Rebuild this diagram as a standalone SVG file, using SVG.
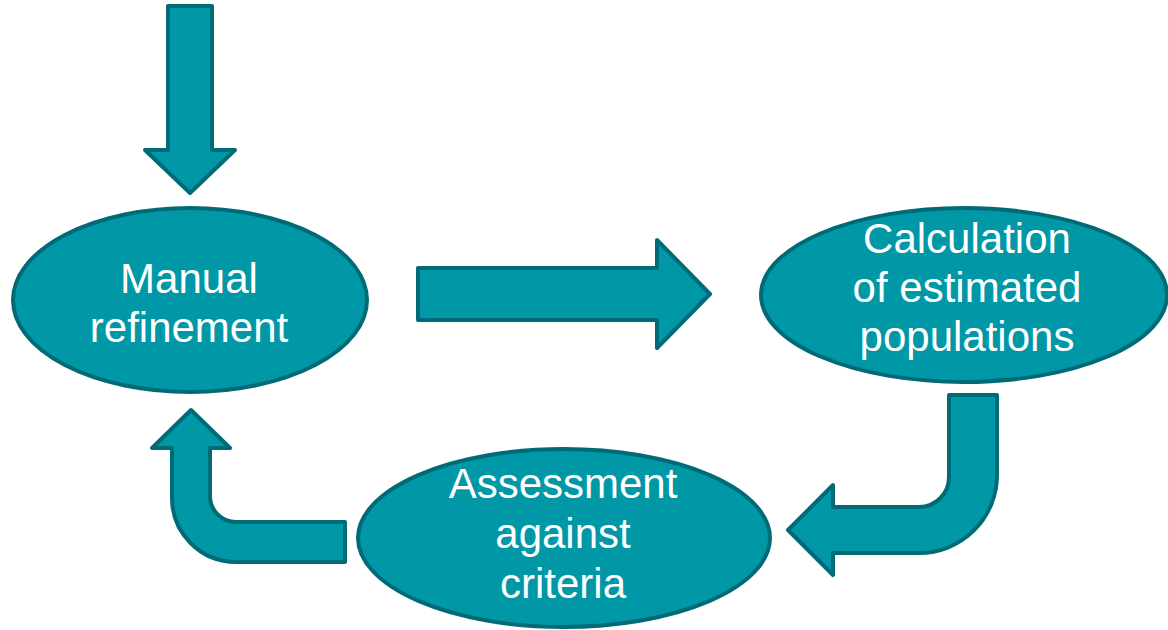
<svg xmlns="http://www.w3.org/2000/svg" width="1168" height="630" viewBox="0 0 1168 630">
<style>
.shape{fill:#0097A7;stroke:#006B76;stroke-width:4;stroke-linejoin:round}
.lbl{fill:#ffffff;font-family:"Liberation Sans",Arial,sans-serif;font-size:42px;text-anchor:middle}
</style>
<rect width="1168" height="630" fill="#ffffff"/>
<g id="connectors">
<path class="shape" d="M168 6 L212 6 L212 150 L235 150 L190 193 L145 150 L168 150 Z"/>
<path class="shape" d="M418 268 L657 268 L657 240 L710 294 L657 348 L657 320 L418 320 Z"/>
<path class="shape" d="M949 395 L997 395 L997 475 A78 78 0 0 1 919 553 L833 553 L833 575 L788 530 L833 485 L833 507 L919 507 A30 30 0 0 0 949 477 Z"/>
<path class="shape" d="M345 522 L345 562 L236 562 A64 64 0 0 1 172 498 L172 448 L152 448 L191 410 L230 448 L210 448 L210 496 A26 26 0 0 0 236 522 Z"/>
</g>
<g id="manual">
<ellipse class="shape" cx="190" cy="300" rx="177" ry="92"/>
<text class="lbl" x="189" y="293">Manual</text>
<text class="lbl" x="189" y="342">refinement</text>
</g>
<g id="calculation">
<ellipse class="shape" cx="964" cy="295" rx="203" ry="87"/>
<text class="lbl" x="967" y="253">Calculation</text>
<text class="lbl" x="967" y="302">of estimated</text>
<text class="lbl" x="967" y="351">populations</text>
</g>
<g id="assessment">
<ellipse class="shape" cx="564" cy="538" rx="206" ry="89"/>
<text class="lbl" x="563" y="498">Assessment</text>
<text class="lbl" x="563" y="548">against</text>
<text class="lbl" x="563" y="598">criteria</text>
</g>
</svg>
